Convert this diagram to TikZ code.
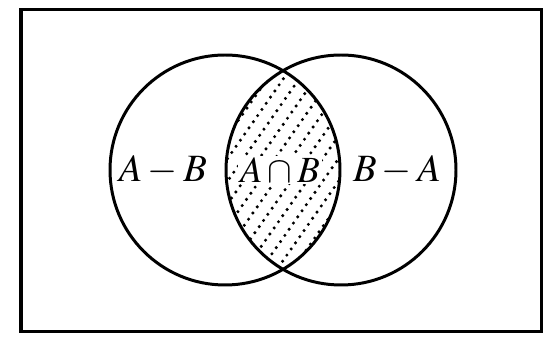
\documentclass[tikz,border=0pt]{standalone}
\usepackage{mathptmx}
\usetikzlibrary{positioning}

\begin{document}
\begin{tikzpicture}[x=0.02cm, y=0.02cm]
            % 0. Keret
            \useasboundingbox (0,0) rectangle (548,338);
            \draw[line width=2.2pt] (21,6.5) rectangle (541.5,328.5);

            % 1. A metszet pontozása (csak a lencsében)
            \begin{scope}
                \clip (225,168) circle (115);
                \clip (341,168) circle (115);
                \foreach \i in {-8,...,8} {
                    \foreach \j in {-18,...,18} {
                        \fill ({283 + 13*\i*cos(-35) + 7.5*\j*cos(55)}, {168 + 13*\i*sin(-35) + 7.5*\j*sin(55)}) circle (1.7);
                    }
                }
            \end{scope}

            % 2. Feliratok
            \node[
                fill=white,
                inner sep=1pt,
                font=\fontsize{21}{23}\selectfont
            ] (metszet) at (280,168) {$A\cap B$};
            \node[font=\fontsize{22}{24}\selectfont] (akulb) at (163,168) {$A-B$};
            \node[font=\fontsize{22}{24}\selectfont] (bkula) at (397,168) {$B-A$};

            % 3. A két kör
            \draw[line width=1.7pt] (225,168) circle (115);
            \draw[line width=1.7pt] (341,168) circle (115);
        \end{tikzpicture}
\end{document}
